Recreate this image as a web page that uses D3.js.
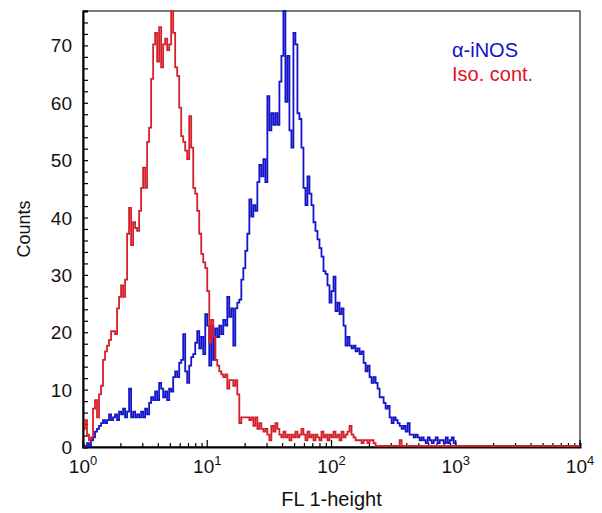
<!DOCTYPE html>
<html>
<head>
<meta charset="utf-8">
<script src="https://cdn.jsdelivr.net/npm/d3@7"></script>
<style>
  body { margin: 0; background: #fff; }
  svg { display: block; font-family: "Liberation Sans", Arial, Helvetica, sans-serif; }
</style>
</head>
<body>
<svg id="chart" width="602" height="513"></svg>
<script>
const channelsPerDecade = 62;

const isoCounts = [
  3, 4.5, 2, 1, 1.5, 6.5, 8, 5, 9, 10.5,
  15, 16.5, 17.5, 18.5, 20, 20, 19.5, 24, 26, 28,
  26, 29, 37, 41.5, 35, 39, 38, 37.5, 41, 45,
  48.5, 45, 53, 55.5, 64, 70, 72, 67, 73, 66,
  70, 71, 69, 70, 76, 72, 66, 64.5, 59, 54,
  53, 51.5, 50, 57.5, 52, 45, 44, 41, 37, 33.5,
  32, 31, 27, 18, 22, 19, 15, 14, 13, 12.5,
  12, 12.5, 10, 11.5, 11.5, 10.5, 11.5, 9, 4, 5,
  5, 5, 5, 4.5, 5, 3.5, 5, 3, 4, 3,
  2.5, 3, 2, 1, 3.5, 2.5, 4, 3, 2, 1.5,
  2.5, 1.5, 2, 1, 2, 1.5, 2.5, 1.5, 2, 3,
  2, 1, 2.5, 1.5, 2, 1, 2, 1.5, 1, 2.5,
  1.5, 2, 1, 2, 1.5, 2.5, 1.5, 2, 1, 2.5,
  1.5, 2, 2.5, 3.5, 2, 1.5, 1, 1, 1, 0.5,
  1, 1, 0.5, 1, 1, 0.5, 0, 0, 0, 0,
  0, 0, 0, 0, 0, 0, 0, 0, 1, 0
];

const inosCounts = [
  0, 0, 0.5, 0, 1, 1.5, 2.5, 3, 3.5, 4,
  4.5, 4, 4.5, 5.5, 4.5, 5, 5.5, 4.5, 6, 5.5,
  6.5, 5, 6, 10, 5, 6, 5, 5.5, 5, 6,
  5, 6.5, 5.5, 7.5, 8.5, 8, 9.5, 8, 11, 10,
  8.5, 9.5, 8, 10, 9.5, 12, 13, 12, 14.5, 15,
  19.5, 13, 11, 14, 15.5, 16, 18, 20, 17, 19,
  16, 23, 21, 14, 21, 15, 20.5, 19, 21, 19.5,
  22, 21, 26, 22.5, 24, 17.5, 24, 25, 25.5, 29,
  31, 34, 37, 43, 40, 42, 41, 46, 49, 47,
  50, 46, 61, 55, 58, 56, 58, 56, 63.5, 68,
  76, 60, 68, 55, 52, 72, 70, 58, 57, 52,
  45, 42, 47, 44, 42, 39, 37.5, 36, 34.5, 33,
  30.5, 30, 28, 25, 27, 29.5, 23.5, 25, 23, 24,
  21, 17.5, 19, 17.5, 17, 17.5, 16.5, 17, 16, 16.5,
  14.5, 13, 14, 12, 11, 12, 11, 10, 8.5, 8.5,
  7.5, 6.5, 7, 5, 4, 5, 4.5, 4, 3.5, 3,
  3.5, 2.5, 4, 2, 2, 1.5, 2, 1.5, 1, 1.5,
  1, 0.5, 1.5, 1, 0.5, 1, 1.5, 0.5, 1, 1,
  0.5, 1.5, 0.5, 1, 1.5, 0.5, 0
];

const xDomain = [1, 1e4];
const yDomain = [0, 76];
const yMajor = [0, 10, 20, 30, 40, 50, 60, 70];
const xDecades = [0, 1, 2, 3, 4];

const legendItems = [
  { label: "\u03b1-iNOS", color: "#1212c8" },
  { label: "Iso. cont.", color: "#e0141e" }
];

const svg = d3.select("#chart");
const margin = { left: 83, right: 22, top: 11, bottom: 66 };
const W = 602, H = 513;

const x = d3.scaleLog().domain(xDomain).range([margin.left, W - margin.right]);
const y = d3.scaleLinear().domain(yDomain).range([H - margin.bottom, margin.top]);

const toPoints = (counts) =>
  counts.map((c, i) => ({ v: Math.pow(10, i / channelsPerDecade), c }));

const line = d3.line()
  .x(d => x(d.v))
  .y(d => y(d.c))
  .curve(d3.curveStepAfter);

// frame
svg.append("rect")
  .attr("x", margin.left).attr("y", margin.top)
  .attr("width", W - margin.right - margin.left)
  .attr("height", H - margin.bottom - margin.top)
  .attr("fill", "none").attr("stroke", "#222").attr("stroke-width", 1.2);

// y axis (ticks inward)
const yAxis = d3.axisRight(y)
  .tickValues(d3.range(0, 77, 2))
  .tickSize(5)
  .tickFormat("");
svg.append("g")
  .attr("transform", `translate(${margin.left},0)`)
  .call(yAxis)
  .call(g => g.select(".domain").attr("stroke-width", 2))
  .call(g => g.selectAll(".tick line").attr("stroke-width", 1.2));

svg.append("g")
  .selectAll("text")
  .data(yMajor)
  .join("text")
  .attr("x", margin.left - 11)
  .attr("y", d => y(d) + 7)
  .attr("text-anchor", "end")
  .attr("font-size", 19)
  .attr("fill", "#111")
  .text(d => d);

// x axis (ticks inward)
const minorTicks = [];
xDecades.slice(0, -1).forEach(d => {
  for (let k = 2; k <= 9; k++) minorTicks.push(k * Math.pow(10, d));
});
const xAxis = d3.axisTop(x)
  .tickValues(minorTicks)
  .tickSize(4)
  .tickFormat("");
const xg = svg.append("g")
  .attr("transform", `translate(0,${H - margin.bottom})`)
  .call(xAxis)
  .call(g => g.select(".domain").attr("stroke-width", 2))
  .call(g => g.selectAll(".tick line").attr("stroke-width", 1.2));

xg.selectAll(".major")
  .data(xDecades)
  .join("line")
  .attr("class", "major")
  .attr("x1", d => x(Math.pow(10, d))).attr("x2", d => x(Math.pow(10, d)))
  .attr("y1", 0).attr("y2", -7)
  .attr("stroke", "#000").attr("stroke-width", 1.2);

const xl = svg.append("g")
  .selectAll("text")
  .data(xDecades)
  .join("text")
  .attr("x", d => x(Math.pow(10, d)))
  .attr("y", H - margin.bottom + 26)
  .attr("text-anchor", "middle")
  .attr("font-size", 19)
  .attr("fill", "#111");
xl.append("tspan").text("10");
xl.append("tspan")
  .attr("dy", -8)
  .attr("font-size", 13)
  .text(d => d);

// histograms, drawn over the axes
svg.append("clipPath").attr("id", "plotclip")
  .append("rect")
  .attr("x", margin.left + 1).attr("y", margin.top - 1)
  .attr("width", W - margin.right - margin.left - 1)
  .attr("height", H - margin.bottom - margin.top + 1);

const plot = svg.append("g")
  .attr("clip-path", "url(#plotclip)")
  .append("g")
  .attr("transform", "translate(0,-1)");

plot.append("path")
  .attr("d", line(toPoints(inosCounts)))
  .attr("fill", "none")
  .attr("stroke", "#1414c8")
  .attr("stroke-width", 1.8);

const isoPts = toPoints(isoCounts);
isoPts.push({ v: xDomain[1], c: 0 });
plot.append("path")
  .attr("d", line(isoPts))
  .attr("fill", "none")
  .attr("stroke", "#d4202a")
  .attr("stroke-width", 1.8);

// axis titles
svg.append("text")
  .attr("transform", `translate(30,${(margin.top + H - margin.bottom) / 2}) rotate(-90)`)
  .attr("text-anchor", "middle")
  .attr("font-size", 18)
  .attr("fill", "#111")
  .text("Counts");

svg.append("text")
  .attr("x", (margin.left + W - margin.right) / 2)
  .attr("y", 506)
  .attr("text-anchor", "middle")
  .attr("font-size", 20)
  .attr("fill", "#111")
  .text("FL 1-height");

// legend
svg.append("g")
  .selectAll("text")
  .data(legendItems)
  .join("text")
  .attr("x", 452)
  .attr("y", (d, i) => 57 + i * 24)
  .attr("font-size", 20)
  .attr("fill", d => d.color)
  .text(d => d.label);
</script>
</body>
</html>
